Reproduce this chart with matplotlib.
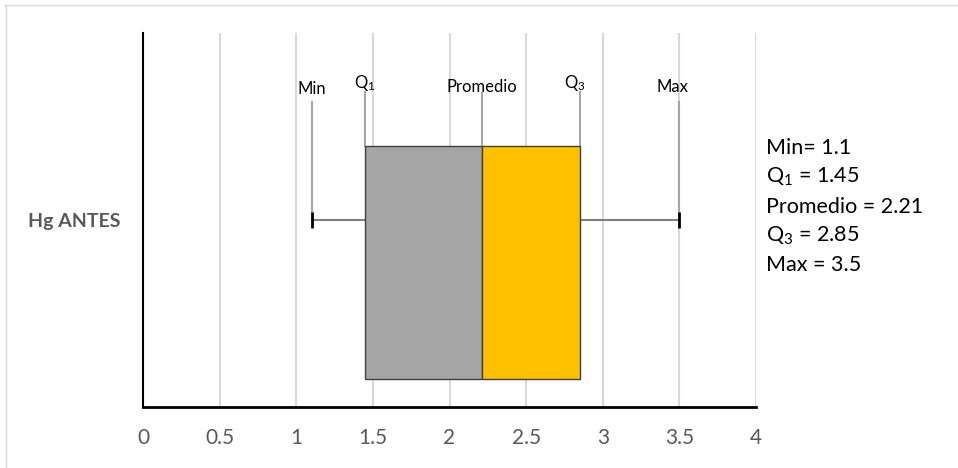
import matplotlib
matplotlib.use("Agg")
import matplotlib.pyplot as plt
from matplotlib.lines import Line2D
from matplotlib.transforms import offset_copy

plt.rcParams['font.family'] = ['Lato', 'DejaVu Sans']
plt.rcParams['mathtext.fontset'] = 'custom'
plt.rcParams['mathtext.rm'] = 'Lato'
plt.rcParams['mathtext.it'] = 'Lato:italic'
plt.rcParams['mathtext.bf'] = 'Lato:bold'

# Five-number summary for the single category
category = ['Hg ANTES']
stat_names = ['Min', r'Q$_\mathrm{1}$', 'Promedio', r'Q$_\mathrm{3}$', 'Max']
stat_values = [1.1, 1.45, 2.21, 2.85, 3.5]
summary_lines = ['Min= 1.1', r'Q$_\mathrm{1}$ = 1.45', 'Promedio = 2.21',
                 r'Q$_\mathrm{3}$ = 2.85', 'Max = 3.5']
x_ticks = [0, 0.5, 1, 1.5, 2, 2.5, 3, 3.5, 4]
x_tick_labels = ['0', '0.5', '1', '1.5', '2', '2.5', '3', '3.5', '4']

v_min, v_q1, v_mean, v_q3, v_max = stat_values

fig = plt.figure(figsize=(9.58, 4.68), dpi=100)
ax = fig.add_axes([143 / 958, 61 / 468, 613 / 958, 374 / 468])
ax.set_xlim(0, 4)
ax.set_ylim(0, 1)

# vertical gridlines
for xv in x_ticks[1:]:
    ax.axvline(xv, color='#D9D9D9', lw=1.5, zorder=0)

# box: lower half grey, upper half gold
box_bottom, box_top = 0.075, 0.698
box_h = box_top - box_bottom
box_c = (box_top + box_bottom) / 2
ax.barh(box_c, v_mean - v_q1, left=v_q1, height=box_h, color='#A5A5A5',
        edgecolor='#404040', linewidth=1.0, zorder=3)
ax.barh(box_c, v_q3 - v_mean, left=v_mean, height=box_h, color='#FFC000',
        edgecolor='#404040', linewidth=1.0, zorder=3)

# whiskers and caps
wy = 0.5
ax.plot([v_min, v_q1], [wy, wy], color='#7F7F7F', lw=1.5, zorder=2)
ax.plot([v_q3, v_max], [wy, wy], color='#7F7F7F', lw=1.5, zorder=2)
cap = 0.022
for xv in (v_min, v_max):
    ax.plot([xv, xv], [wy - cap, wy + cap], color='black', lw=2, zorder=4,
            solid_capstyle='butt')

# leader lines and labels above the box
line_tops = [0.816, 0.842, 0.839, 0.842, 0.816]
line_bottoms = [wy + cap, box_top, box_top, box_top, wy + cap]
text_base = [0.837, 0.853, 0.842, 0.853, 0.842]
text_dx = [0, -1, 0, -5, -7]
for name, xv, t, b, yb, dx in zip(stat_names, stat_values, line_tops,
                                  line_bottoms, text_base, text_dx):
    ax.plot([xv, xv], [b, t], color='#A6A6A6', lw=1.5, zorder=2)
    tr = offset_copy(ax.transData, fig=fig, x=dx * 0.72, y=0, units='points')
    ax.text(xv, yb, name, transform=tr, ha='center', va='baseline',
            fontsize=12, color='black', zorder=5)

# summary text on the right
for i, s in enumerate(summary_lines):
    fig.text(766 / 958, 1 - (148 + i * 29.3) / 468, s, ha='left', va='center',
             fontsize=15.5, color='black')

# axes styling
for side in ('top', 'right'):
    ax.spines[side].set_visible(False)
ax.spines['left'].set_linewidth(1.5)
ax.spines['left'].set_color('black')
ax.spines['bottom'].set_linewidth(2)
ax.spines['bottom'].set_color('black')
ax.set_xticks(x_ticks)
ax.set_xticklabels(x_tick_labels, fontsize=15, color='#595959')
ax.tick_params(axis='x', length=0, pad=15)
ax.set_yticks([wy])
ax.set_yticklabels(category, fontsize=14, fontweight='bold', color='#595959')
ax.tick_params(axis='y', length=0, pad=16.5)

# outer chart frame
fig.add_artist(Line2D([5 / 958, 1], [1 - 4.5 / 468, 1 - 4.5 / 468],
                      transform=fig.transFigure, color='#D9D9D9', lw=1))
fig.add_artist(Line2D([5.5 / 958, 5.5 / 958], [0, 1 - 4.5 / 468],
                      transform=fig.transFigure, color='#D9D9D9', lw=1))

fig.savefig('out.png', dpi=100)
